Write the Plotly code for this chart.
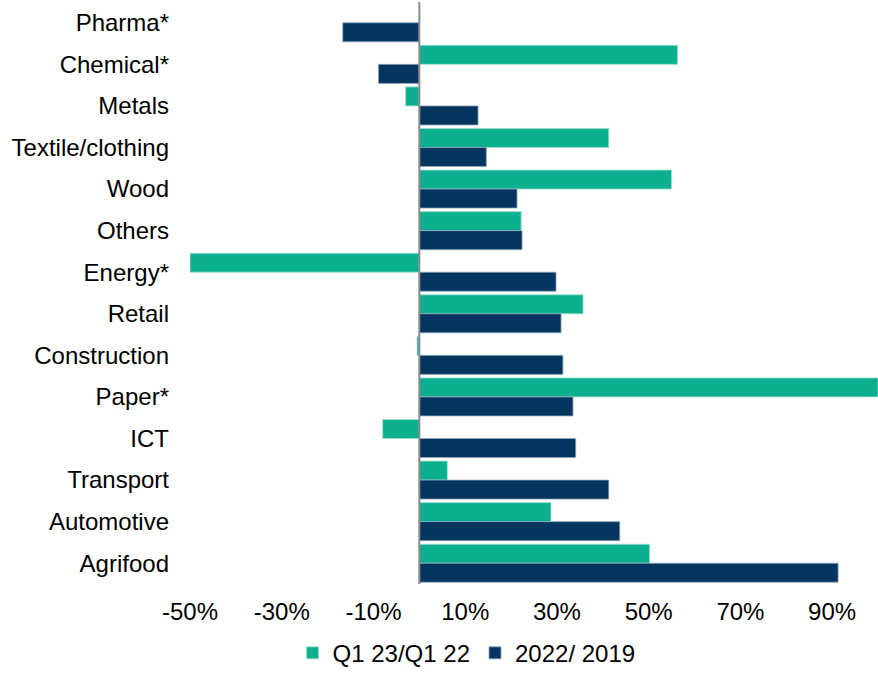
import plotly.graph_objects as go

categories = ["Pharma*", "Chemical*", "Metals", "Textile/clothing", "Wood", "Others",
              "Energy*", "Retail", "Construction", "Paper*", "ICT", "Transport",
              "Automotive", "Agrifood"]
q1_23_vs_q1_22 = [None, 56.3, -3.0, 41.3, 55.0, 22.2, -50.0, 35.7, -0.5, 100.0, -8.0, 6.1, 28.7, 50.2]
y2022_vs_2019 = [-16.7, -8.9, 12.8, 14.6, 21.3, 22.4, 29.8, 30.9, 31.3, 33.5, 34.1, 41.3, 43.7, 91.3]
tick_values = [-50, -30, -10, 10, 30, 50, 70, 90]
tick_labels = ["-50%", "-30%", "-10%", "10%", "30%", "50%", "70%", "90%"]

GREEN = "#0DB08E"
NAVY = "#03355F"
FONT = "Liberation Sans, Arial, sans-serif"

fig = go.Figure()
fig.add_trace(go.Bar(
    y=categories, x=q1_23_vs_q1_22, orientation="h", name="Q1 23/Q1 22",
    marker=dict(color=GREEN, line=dict(color="#9FE0CF", width=0.8)),
))
fig.add_trace(go.Bar(
    y=categories, x=y2022_vs_2019, orientation="h", name="2022/ 2019",
    marker=dict(color=NAVY, line=dict(color="#8FA6BC", width=0.8)),
))

fig.add_shape(type="line", xref="x", yref="paper", x0=0, x1=0, y0=0, y1=1,
              line=dict(color="#8C8C8C", width=2), layer="above")

fig.update_layout(
    width=878, height=676,
    margin=dict(l=190, r=0, t=2, b=92),
    paper_bgcolor="white", plot_bgcolor="white",
    barmode="group", bargap=0.085, bargroupgap=0,
    font=dict(family=FONT, size=24, color="#000000"),
    showlegend=True,
    legend=dict(orientation="h", x=0.402, xanchor="center", y=-0.119, yanchor="middle",
                font=dict(size=24), itemwidth=30, traceorder="normal"),
    xaxis=dict(range=[-50, 100], tickvals=tick_values, ticktext=tick_labels,
               showgrid=False, zeroline=False, showline=False, ticks="",
               ticklabelstandoff=11, fixedrange=True),
    yaxis=dict(autorange="reversed", showgrid=False, zeroline=False, showline=False,
               ticks="", ticklabelstandoff=20, fixedrange=True),
)

fig.write_html("out.html", config={"displayModeBar": False},
               post_script="document.body.style.margin='0';document.body.style.padding='0';")
